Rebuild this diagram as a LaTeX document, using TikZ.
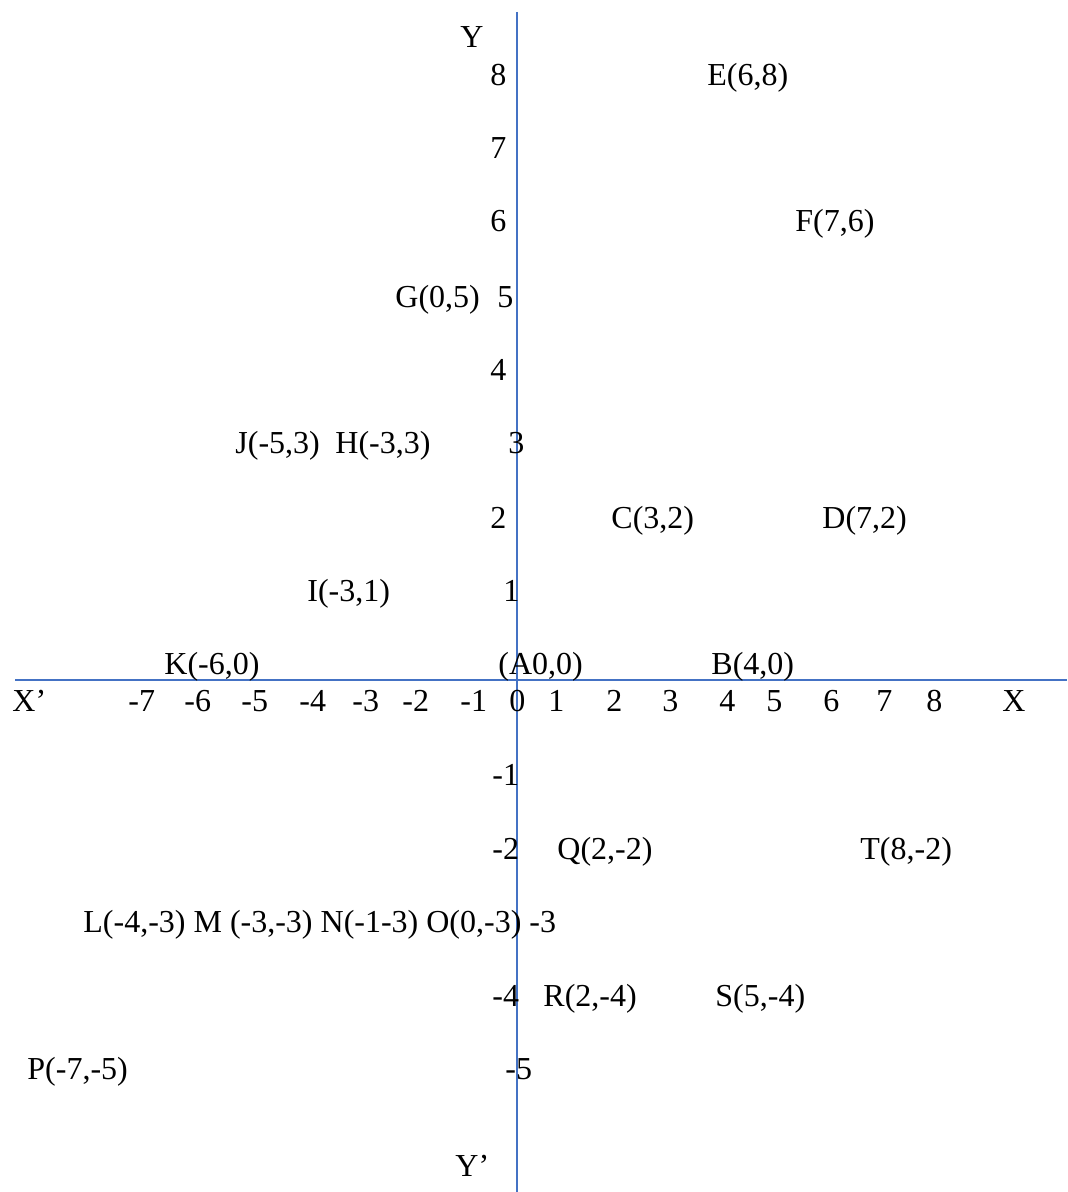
\documentclass[tikz,border=0pt]{standalone}
\usepackage{fontspec}
\setmainfont{Liberation Serif}
\definecolor{axisblue}{RGB}{68,114,196}
\begin{document}
\begin{tikzpicture}[x=0.5pt,y=0.5pt,yscale=-1,xscale=1,
	lbl/.style={anchor=base west,inner sep=0pt,font=\fontsize{16}{19}\selectfont},
	axis/.style={draw=axisblue,line width=1pt}]
	\useasboundingbox (0,0) rectangle (1067,1192);
	
	%Straight Lines: axes
	\coordinate (ytop) at (517,12);
	\coordinate (ybot) at (517,1192);
	\coordinate (xleft) at (15,680);
	\coordinate (xright) at (1067,680);
	\draw [axis] (ytop) -- (ybot);
	\draw [axis] (xleft) -- (xright);
	
	% Text Node: axis names
	\node (yname) [lbl] at (460,48) {Y};
	\node (ypname) [lbl] at (455,1176) {Y’};
	\node (xpname) [lbl] at (12,711) {X’};
	\node (xname) [lbl] at (1002,711) {X};
	
	% Text Node: y ticks
	\node (y8) [lbl] at (490,86) {8};
	\node (y7) [lbl] at (490,159) {7};
	\node (y6) [lbl] at (490,232) {6};
	\node (y5) [lbl] at (497,307) {5};
	\node (y4) [lbl] at (490,380) {4};
	\node (y3) [lbl] at (508,453) {3};
	\node (y2) [lbl] at (490,528) {2};
	\node (y1) [lbl] at (503,601) {1};
	\node (ym1) [lbl] at (492,785) {-1};
	\node (ym2) [lbl] at (492,859) {-2};
	\node (ym4) [lbl] at (492,1006) {-4};
	\node (ym5) [lbl] at (505,1079) {-5};
	
	% Text Node: x ticks
	\node (xm7) [lbl] at (128,711) {-7};
	\node (xm6) [lbl] at (184,711) {-6};
	\node (xm5) [lbl] at (241,711) {-5};
	\node (xm4) [lbl] at (299,711) {-4};
	\node (xm3) [lbl] at (352,711) {-3};
	\node (xm2) [lbl] at (402,711) {-2};
	\node (xm1) [lbl] at (460,711) {-1};
	\node (x0) [lbl] at (509,711) {0};
	\node (x1) [lbl] at (548,711) {1};
	\node (x2) [lbl] at (606,711) {2};
	\node (x3) [lbl] at (662,711) {3};
	\node (x4) [lbl] at (719,711) {4};
	\node (x5) [lbl] at (766,711) {5};
	\node (x6) [lbl] at (823,711) {6};
	\node (x7) [lbl] at (876,711) {7};
	\node (x8) [lbl] at (926,711) {8};
	
	% Text Node: points
	\node (ptE) [lbl] at (707,86) {E(6,8)};
	\node (ptF) [lbl] at (795,232) {F(7,6)};
	\node (ptG) [lbl] at (395,307) {G(0,5)};
	\node (ptJ) [lbl] at (235,453) {J(-5,3)};
	\node (ptH) [lbl] at (335,453) {H(-3,3)};
	\node (ptC) [lbl] at (611,528) {C(3,2)};
	\node (ptD) [lbl] at (822,528) {D(7,2)};
	\node (ptI) [lbl] at (307,601) {I(-3,1)};
	\node (ptK) [lbl] at (164,674) {K(-6,0)};
	\node (ptA) [lbl] at (498,674) {(A0,0)};
	\node (ptB) [lbl] at (711,674) {B(4,0)};
	\node (ptQ) [lbl] at (557,859) {Q(2,-2)};
	\node (ptT) [lbl] at (860,859) {T(8,-2)};
	\node (rowLO) [lbl] at (83,932) {L(-4,-3) M (-3,-3) N(-1-3) O(0,-3) -3};
	\node (ptR) [lbl] at (543,1006) {R(2,-4)};
	\node (ptS) [lbl] at (715,1006) {S(5,-4)};
	\node (ptP) [lbl] at (27,1079) {P(-7,-5)};
\end{tikzpicture}
\end{document}
